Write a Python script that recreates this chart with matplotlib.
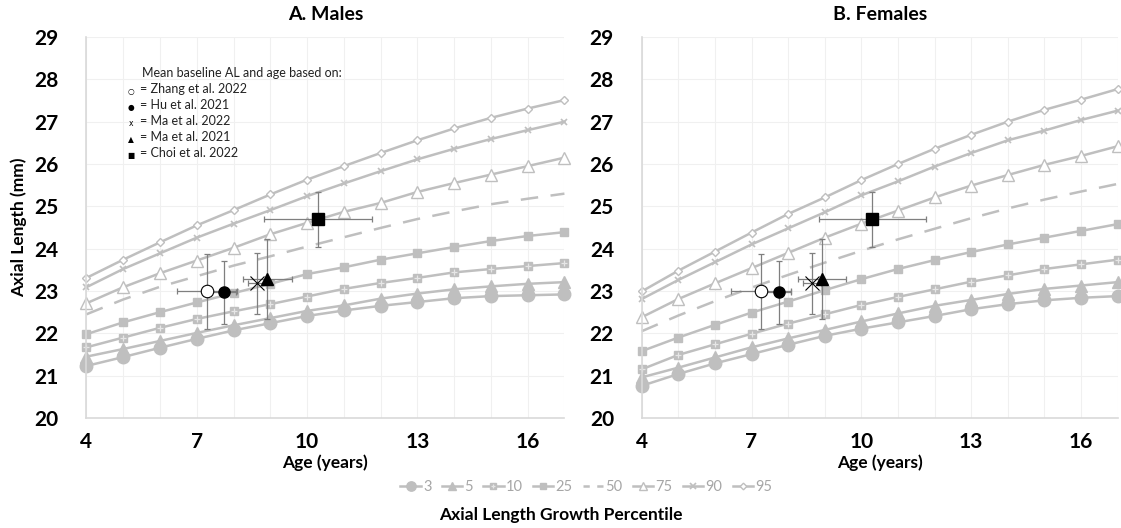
import numpy as np
import matplotlib.pyplot as plt
from matplotlib.lines import Line2D
from matplotlib.legend_handler import HandlerTuple

plt.rcParams['font.family'] = ['Lato', 'DejaVu Sans']

ages = np.arange(4, 18)
percentiles = ['3', '5', '10', '25', '50', '75', '90', '95']

males = {
    '3':  [21.23, 21.44, 21.66, 21.87, 22.07, 22.24, 22.41, 22.54, 22.65, 22.74, 22.83, 22.88, 22.90, 22.92],
    '5':  [21.45, 21.63, 21.82, 22.01, 22.19, 22.36, 22.53, 22.66, 22.82, 22.94, 23.04, 23.11, 23.17, 23.21],
    '10': [21.67, 21.90, 22.13, 22.34, 22.52, 22.69, 22.87, 23.05, 23.19, 23.31, 23.44, 23.52, 23.59, 23.66],
    '25': [21.98, 22.26, 22.50, 22.73, 22.95, 23.17, 23.40, 23.56, 23.74, 23.89, 24.04, 24.18, 24.30, 24.39],
    '50': [22.45, 22.80, 23.10, 23.35, 23.60, 23.82, 24.05, 24.27, 24.49, 24.70, 24.88, 25.05, 25.18, 25.30],
    '75': [22.71, 23.09, 23.42, 23.72, 24.02, 24.34, 24.61, 24.87, 25.08, 25.34, 25.55, 25.75, 25.95, 26.15],
    '90': [23.09, 23.52, 23.89, 24.26, 24.59, 24.91, 25.24, 25.54, 25.83, 26.11, 26.36, 26.59, 26.80, 27.00],
    '95': [23.31, 23.74, 24.15, 24.55, 24.91, 25.28, 25.63, 25.95, 26.26, 26.56, 26.84, 27.09, 27.31, 27.51],
}

females = {
    '3':  [20.76, 21.04, 21.29, 21.51, 21.73, 21.94, 22.11, 22.26, 22.41, 22.57, 22.69, 22.78, 22.84, 22.88],
    '5':  [20.96, 21.19, 21.43, 21.67, 21.88, 22.08, 22.28, 22.47, 22.65, 22.79, 22.93, 23.05, 23.13, 23.21],
    '10': [21.15, 21.49, 21.74, 21.99, 22.23, 22.45, 22.67, 22.86, 23.04, 23.22, 23.37, 23.52, 23.63, 23.74],
    '25': [21.58, 21.90, 22.20, 22.49, 22.75, 23.02, 23.28, 23.52, 23.73, 23.92, 24.10, 24.26, 24.42, 24.58],
    '50': [22.05, 22.42, 22.76, 23.08, 23.38, 23.67, 23.95, 24.22, 24.47, 24.72, 24.95, 25.16, 25.35, 25.53],
    '75': [22.38, 22.81, 23.18, 23.54, 23.90, 24.26, 24.59, 24.90, 25.21, 25.49, 25.74, 25.98, 26.19, 26.42],
    '90': [22.81, 23.26, 23.68, 24.10, 24.48, 24.86, 25.26, 25.59, 25.94, 26.26, 26.56, 26.79, 27.04, 27.26],
    '95': [22.99, 23.48, 23.93, 24.38, 24.82, 25.21, 25.62, 26.00, 26.36, 26.69, 27.00, 27.28, 27.52, 27.77],
}

# study baselines (same in both panels)
studies = ['Zhang et al. 2022', 'Hu et al. 2021', 'Ma et al. 2022', 'Ma et al. 2021', 'Choi et al. 2022']
study_age = [7.27, 7.74, 8.65, 8.92, 10.30]
study_age_err = [0.82, 0.34, 0.25, 0.66, 1.46]
study_al = [22.99, 22.97, 23.18, 23.28, 24.69]
study_al_err = [0.89, 0.75, 0.72, 0.94, 0.65]
study_symbols = ['\u25cb', '\u25cf', 'x', '\u25b2', '\u25a0']

gray = '#bfbfbf'
styles = {
    '3':  dict(marker='o', ms=9, mfc=gray, mec=gray),
    '5':  dict(marker='^', ms=8, mfc=gray, mec=gray),
    '10': dict(marker='s', ms=5.5, mfc=gray, mec=gray),
    '25': dict(marker='s', ms=5.5, mfc=gray, mec=gray),
    '50': dict(marker='', ls=(0, (7, 5))),
    '75': dict(marker='^', ms=8, mfc='white', mec=gray, mew=1.0),
    '90': dict(marker='x', ms=5, mec=gray, mew=1.2),
    '95': dict(marker='D', ms=4.5, mfc='white', mec=gray, mew=1.0),
}
pt_styles = [
    dict(marker='o', ms=9, mfc='white', mec='black', mew=0.8),
    dict(marker='o', ms=8, mfc='black', mec='black'),
    dict(marker='x', ms=10, mec='black', mew=0.8),
    dict(marker='^', ms=8, mfc='black', mec='black'),
    dict(marker='s', ms=9, mfc='black', mec='black'),
]

fig = plt.figure(figsize=(11.21, 5.28), dpi=100)
ax1 = fig.add_axes([0.0771, 0.2083, 0.4264, 0.7216])
ax2 = fig.add_axes([0.5724, 0.2083, 0.4246, 0.7216])

handles = []
for ax, data, title in [(ax1, males, 'A. Males'), (ax2, females, 'B. Females')]:
    for p in percentiles:
        st = dict(styles[p])
        ls = st.pop('ls', '-')
        ln, = ax.plot(ages, data[p], color=gray, lw=1.8, ls=ls, **st, zorder=2, clip_on=False)
        if p == '10':
            pl, = ax.plot(ages, data[p], ls='none', marker='+', ms=4, mec='#e6e6e6', mew=0.9,
                          zorder=2.1, clip_on=False)
            ln = (ln, pl)
        if p == '50':
            # shorter dashes for the legend key
            ln = Line2D([], [], color=gray, lw=1.8, ls=(0, (2.5, 3)))
        if ax is ax1:
            handles.append(ln)
    for i in range(len(studies)):
        ax.errorbar(study_age[i], study_al[i], xerr=study_age_err[i], yerr=study_al_err[i],
                    fmt='none', ecolor='#7f7f7f', elinewidth=0.9, capsize=2.5, capthick=0.9, zorder=3)
        ax.plot(study_age[i], study_al[i], ls='none', zorder=4, **pt_styles[i])

    ax.set_xlim(4, 17)
    ax.set_ylim(20, 29)
    ax.set_xticks([4, 7, 10, 13, 16])
    ax.set_yticks(range(20, 30))
    ax.set_xticks(range(4, 18), minor=True)
    ax.grid(True, which='both', color='#f0f0f0', lw=0.8, zorder=0)
    ax.set_axisbelow(True)
    for s in ['top', 'right']:
        ax.spines[s].set_visible(False)
    for s in ['left', 'bottom']:
        ax.spines[s].set_color('#d9d9d9')
        ax.spines[s].set_linewidth(1.2)
    ax.tick_params(which='both', length=0)
    ax.tick_params(axis='y', pad=20, labelsize=15)
    ax.tick_params(axis='x', pad=10, labelsize=15)
    for lab in ax.get_xticklabels() + ax.get_yticklabels():
        lab.set_fontweight('bold')
    ax.set_title(title, fontsize=14, fontweight='bold', pad=12)
    ax.set_xlabel('Age (years)', fontsize=12.5, fontweight='bold', labelpad=2)

ax1.set_ylabel('Axial Length (mm)', fontsize=12.5, fontweight='bold', labelpad=5)

# annotation box in males panel
ax1.text(0.117, 0.905, 'Mean baseline AL and age based on:', transform=ax1.transAxes,
         fontsize=9, va='center', color='#222222')
for i, name in enumerate(studies):
    y = 0.905 - 0.042 * (i + 1)
    ax1.text(0.093, y - 0.006, study_symbols[i], transform=ax1.transAxes, fontsize=5.5,
             va='center', ha='center', family=['DejaVu Sans'])
    ax1.text(0.113, y, '= ' + name, transform=ax1.transAxes, fontsize=9,
             va='center', color='#222222')

leg = fig.legend(handles, percentiles, loc='center', bbox_to_anchor=(0.523, 0.077), ncol=8,
                 frameon=False, fontsize=10.5, handlelength=1.4, handletextpad=0.15,
                 columnspacing=0.7, markerscale=0.75,
                 handler_map={tuple: HandlerTuple(ndivide=1)})
for t in leg.get_texts():
    t.set_color('#a6a6a6')

fig.text(0.5, 0.025, 'Axial Length Growth Percentile', ha='center', va='center',
         fontsize=12.5, fontweight='bold')

fig.savefig('out.png', dpi=100)
